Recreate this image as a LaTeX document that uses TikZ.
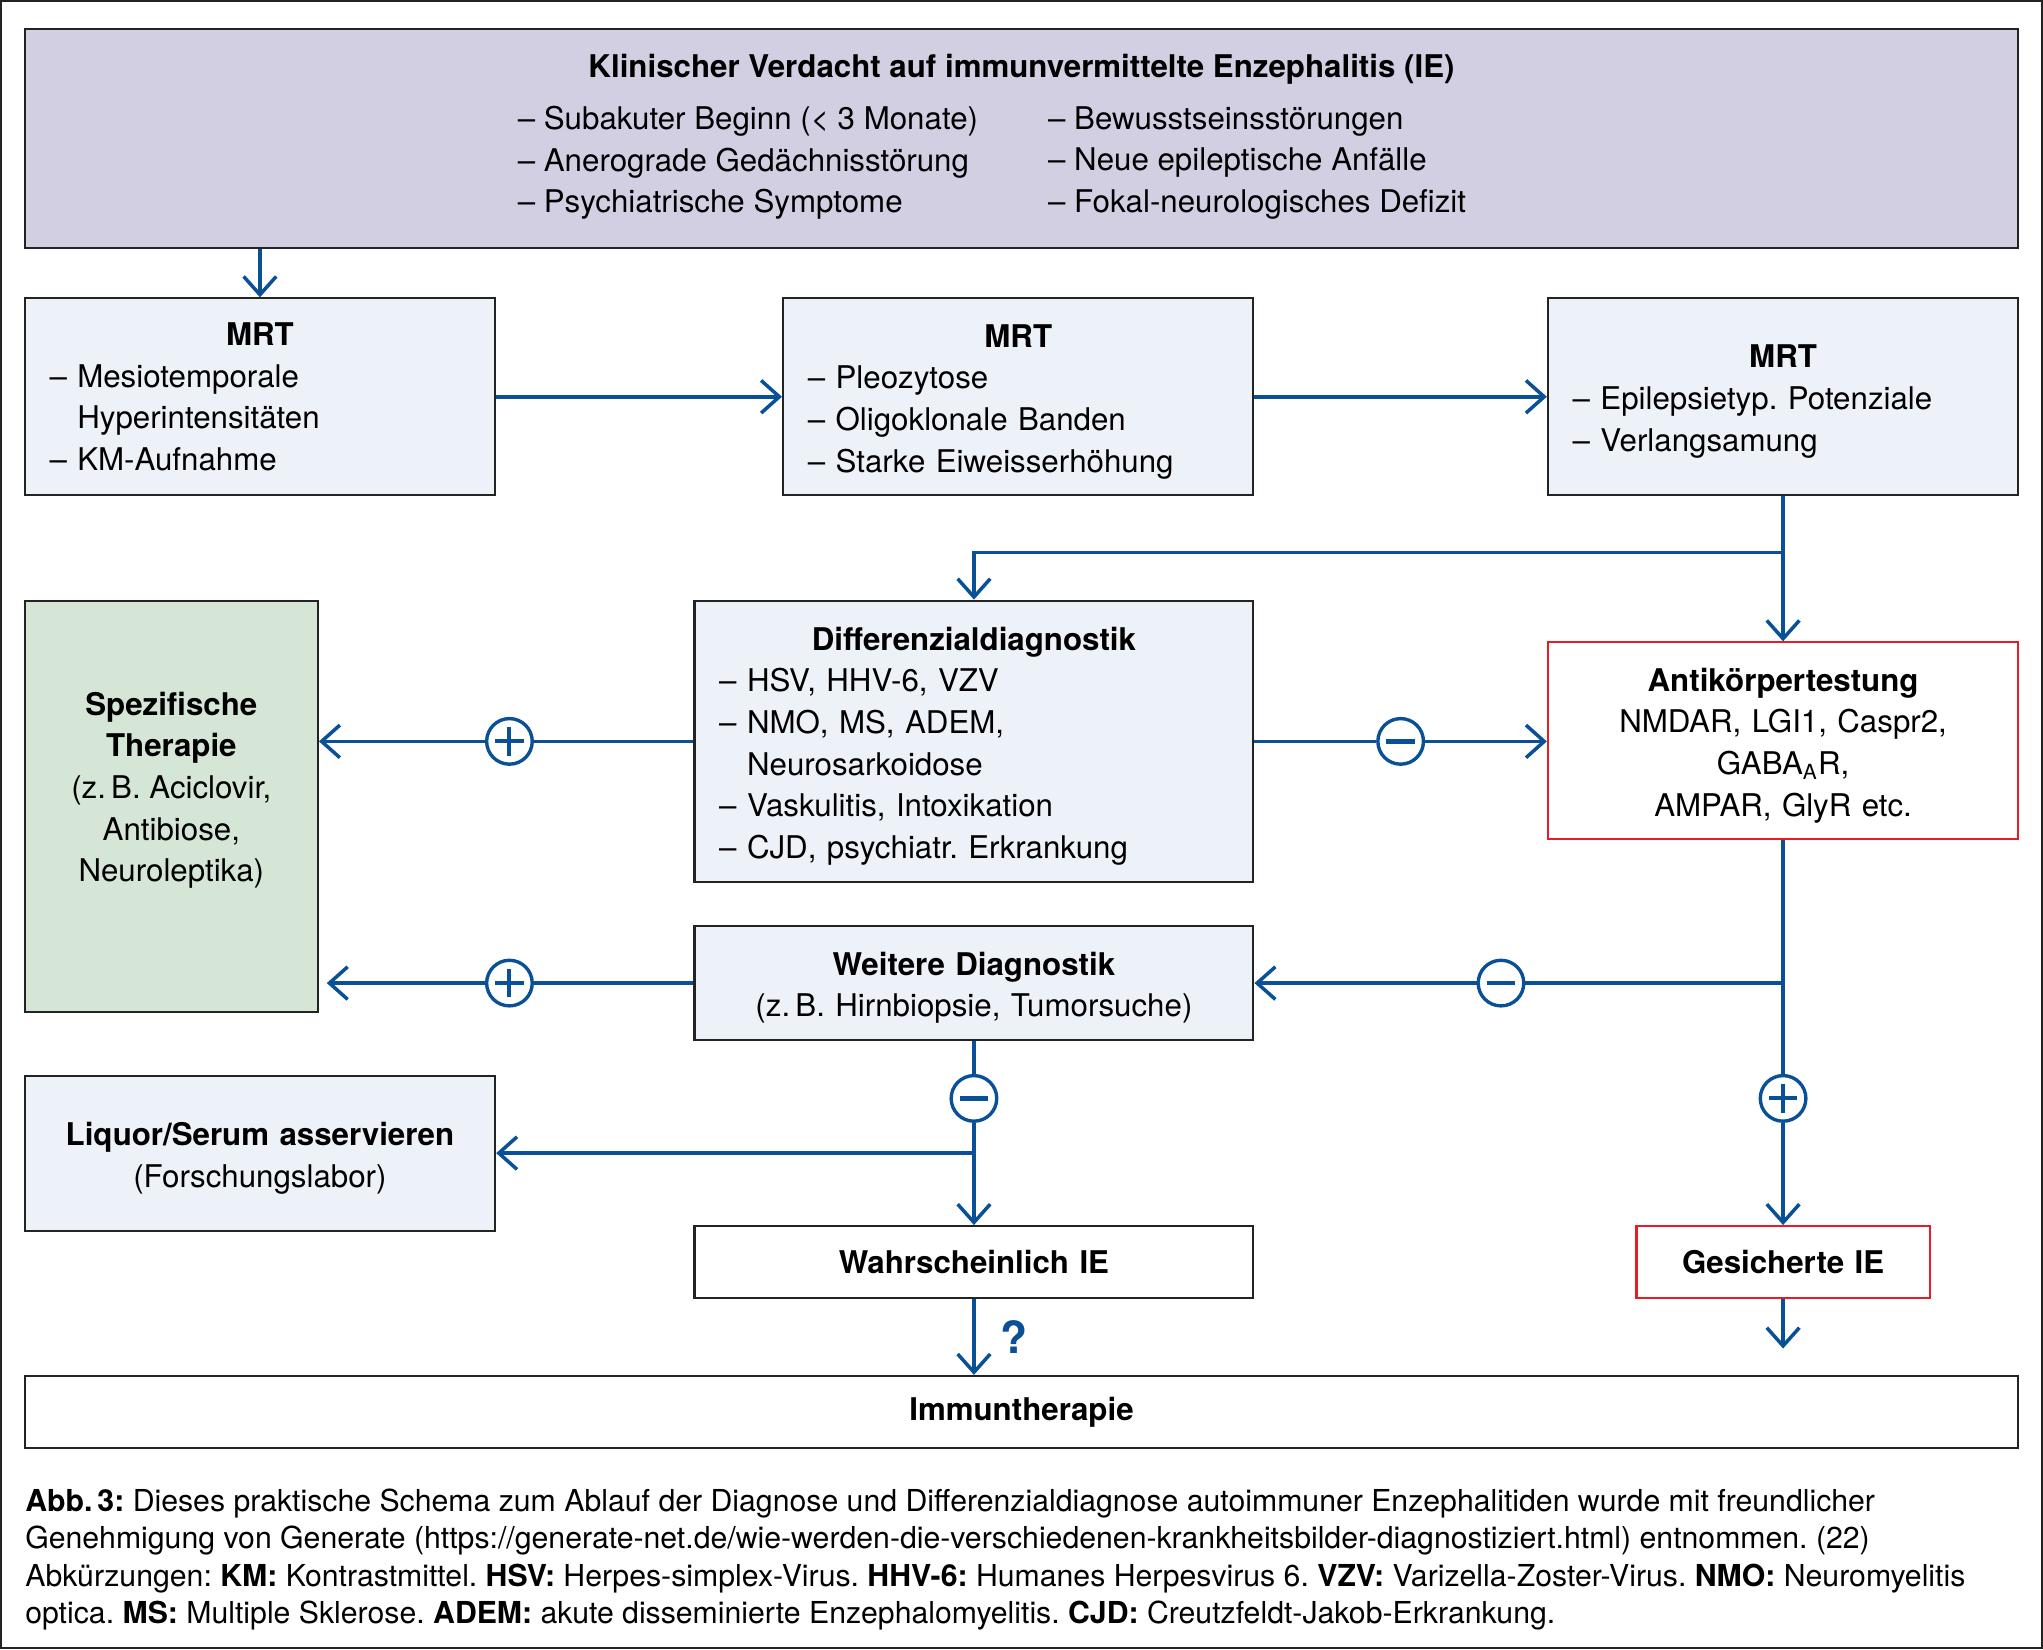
\documentclass[tikz,border=0pt]{standalone}
\usepackage{fontspec}
\setmainfont{TeX Gyre Heros}
\usetikzlibrary{arrows.meta,calc}
\definecolor{ieblue}{RGB}{10,80,150}
\definecolor{iered}{RGB}{232,28,36}
\definecolor{lav}{RGB}{211,207,227}
\definecolor{paleblue}{RGB}{237,241,248}
\definecolor{palegreen}{RGB}{214,230,214}
\definecolor{edge}{RGB}{35,35,35}
\newcommand{\topstrut}{\rule{0pt}{12.5pt}}
\begin{document}
\frenchspacing
\begin{tikzpicture}[x=0.5pt,y=-0.5pt,
  font=\fontsize{12}{16}\selectfont,
  box/.style={draw=edge, line width=0.8pt, rectangle, inner xsep=9.5pt, inner ysep=0pt},
  sz/.style n args={3}{minimum width=#1, minimum height=#2, text width=#3},
  lbox/.style={box, fill=paleblue, align=left},
  wbox/.style={box, fill=white, align=center},
  rbox/.style={box, draw=iered, fill=white, align=center},
  txt/.style={inner sep=0pt},
  ln/.style={draw=ieblue, line width=1.4pt},
  arr/.style={ln, -{Straight Barb[length=7pt,width=12.5pt,line width=1.35pt]}},
  sign/.style={circle, draw=ieblue, line width=1.3pt, fill=white, minimum size=17.5pt, inner sep=0pt},
  plus/.style={sign, path picture={
     \draw[ieblue,line width=1.5pt] ([xshift=-5.5pt]path picture bounding box.center) -- ([xshift=5.5pt]path picture bounding box.center);
     \draw[ieblue,line width=1.5pt] ([yshift=-5.5pt]path picture bounding box.center) -- ([yshift=5.5pt]path picture bounding box.center);}},
  minus/.style={sign, path picture={
     \draw[ieblue,line width=1.7pt] ([xshift=-5.5pt]path picture bounding box.center) -- ([xshift=5.5pt]path picture bounding box.center);}},
]
\useasboundingbox (0,0) rectangle (1568,1266);
\draw[edge, line width=0.9pt] (1,1) rectangle (1567,1265);

% top box
\node[box, fill=lav, sz={765pt}{84pt}{746pt}] (top) at (784,106) {};
\node[txt] (ttl) at (784,53) {\bfseries Klinischer Verdacht auf immunvermittelte Enzephalitis (IE)};
\node[txt, anchor=west, align=left] (tl) at (397,125) {– Subakuter Beginn (< 3 Monate)\\– Anerograde Gedächnisstörung\\– Psychiatrische Symptome};
\node[txt, anchor=west, align=left] (tr) at (804,125) {– Bewusstseinsstörungen\\– Neue epileptische Anfälle\\– Fokal-neurologisches Defizit};

% MRT row
\node[lbox, sz={180.5pt}{75.5pt}{161.5pt}] (mrt1) at (199.5,304.5)
  {{\centering\bfseries MRT\par}– Mesiotemporale\\\hphantom{– }Hyperintensitäten\\– KM-Aufnahme};
\node[lbox, sz={180.5pt}{75.5pt}{161.5pt}] (mrt2) at (781.5,304.5)
  {{\centering\bfseries\topstrut MRT\par}– Pleozytose\\– Oligoklonale Banden\\– Starke Eiweisserhöhung};
\node[lbox, sz={180.5pt}{75.5pt}{161.5pt}] (mrt3) at (1368.5,304.5)
  {{\centering\bfseries\topstrut MRT\par}– Epilepsietyp. Potenziale\\– Verlangsamung};

% middle
\node[box, fill=palegreen, sz={112.5pt}{158pt}{93.5pt}] (spez) at (131.5,619) {};
\node[txt, align=center] (spezt) at (131.5,606.5)
  {\textbf{Spezifische}\\\textbf{Therapie}\\(z.\,B. Aciclovir,\\Antibiose,\\Neuroleptika)};
\node[lbox, sz={214.5pt}{108pt}{195.5pt}] (diff) at (747.5,569)
  {{\centering\bfseries\topstrut Differenzialdiagnostik\par}– HSV, HHV-6, VZV\\– NMO, MS, ADEM,\\\hphantom{– }Neurosarkoidose\\– Vaskulitis, Intoxikation\\– CJD, psychiatr. Erkrankung};
\node[rbox, sz={180.5pt}{75.5pt}{161.5pt}] (ak) at (1368.5,568.5)
  {\topstrut\textbf{Antikörpertestung}\\NMDAR, LGI1, Caspr2,\\GABA\textsubscript{A}R,\\AMPAR, GlyR etc.};
\node[lbox, align=center, sz={214.5pt}{43.5pt}{195.5pt}] (weit) at (747.5,754.5)
  {\topstrut\textbf{Weitere Diagnostik}\\(z.\,B. Hirnbiopsie, Tumorsuche)};
\node[lbox, align=center, sz={180.5pt}{59.5pt}{161.5pt}] (liq) at (199.5,885.5)
  {\topstrut\textbf{Liquor/Serum asservieren}\\(Forschungslabor)};
\node[wbox, sz={214.5pt}{27.5pt}{195.5pt}] (wahr) at (747.5,968.5) {\textbf{Wahrscheinlich IE}};
\node[rbox, sz={112.5pt}{27.5pt}{93.5pt}] (ges) at (1368.5,968.5) {\textbf{Gesicherte IE}};
\node[wbox, sz={765pt}{27.5pt}{746pt}] (imm) at (784,1083.5) {\textbf{Immuntherapie}};

% signs
\node[plus] (p1) at (391,569) {};
\node[plus] (p2) at (391,754.5) {};
\node[minus] (m1) at (1075,569) {};
\node[minus] (m2) at (1152,754.5) {};
\node[minus] (m3) at (747.5,843) {};
\node[plus] (p3) at (1368.5,843) {};

% connectors
\draw[arr] (top.south -| mrt1.north) -- (mrt1.north);
\draw[arr] (mrt1.east) -- (mrt2.west);
\draw[arr] (mrt2.east) -- (mrt3.west);
\coordinate (j1) at (1368.5,424);
\draw[ln] (mrt3.south) -- (j1);
\draw[arr] (j1) -| (diff.north);
\draw[arr] (j1) -- (ak.north);
\draw[ln] (diff.west) -- (p1.east);
\draw[arr] (p1.west) -- (p1.west -| spez.east);
\draw[ln] (diff.east) -- (m1.west);
\draw[arr] (m1.east) -- (m1.east -| ak.west);
\draw[ln] (weit.west) -- (p2.east);
\draw[arr] (p2.west) -- ([xshift=3pt]p2.west -| spez.east);
\coordinate (j2) at (1368.5,754.5);
\draw[ln] (ak.south) -- (j2) -- (p3.north);
\draw[ln] (j2) -- (m2.east);
\draw[arr] (m2.west) -- (m2.west -| weit.east);
\draw[arr] (p3.south) -- (ges.north);
\draw[ln] (weit.south) -- (m3.north);
\coordinate (j3) at (747.5,885);
\draw[ln] (m3.south) -- (j3);
\draw[arr] (j3) -- (j3 -| liq.east);
\draw[arr] (j3) -- (wahr.north);
\draw[arr] (wahr.south) -- (wahr.south |- imm.north);
\node[txt, text=ieblue, font=\fontsize{17}{20}\selectfont\bfseries] (qm) at (778,1026) {?};
\coordinate (gend) at (1368.5,1035);
\draw[arr] (ges.south) -- (gend);

% caption
\node[txt, anchor=base west, align=left, font=\fontsize{11.6}{14.35}\selectfont] (cap) at (19,1246)
  {\textbf{Abb.\,3:} Dieses praktische Schema zum Ablauf der Diagnose und Differenzialdiagnose autoimmuner Enzephalitiden wurde mit freundlicher\\
   Genehmigung von Generate (https://generate-net.de/wie-werden-die-verschiedenen-krankheitsbilder-diagnostiziert.html) entnommen. (22)\\
   Abkürzungen: \textbf{KM:} Kontrastmittel. \textbf{HSV:} Herpes-simplex-Virus. \textbf{HHV-6:} Humanes Herpesvirus 6. \textbf{VZV:} Varizella-Zoster-Virus. \textbf{NMO:} Neuromyelitis\\
   optica. \textbf{MS:} Multiple Sklerose. \textbf{ADEM:} akute disseminierte Enzephalomyelitis. \textbf{CJD:} Creutzfeldt-Jakob-Erkrankung.};
\end{tikzpicture}
\end{document}
